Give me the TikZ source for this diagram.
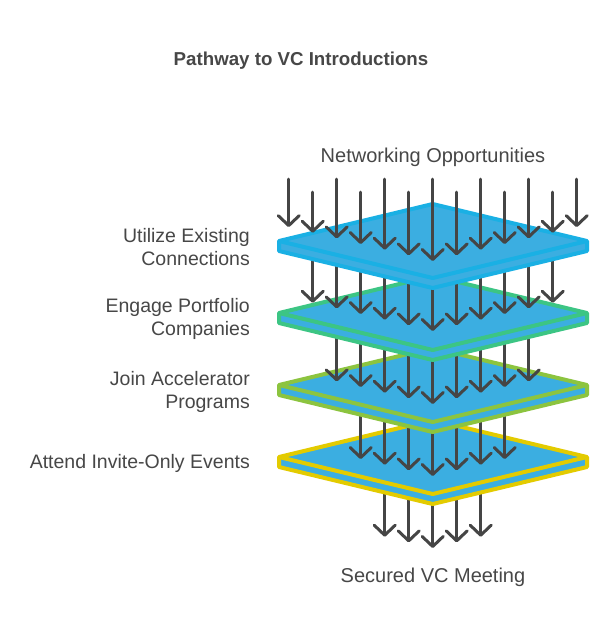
\documentclass[tikz,border=0pt]{standalone}
\usepackage{fontspec}
\setmainfont{Liberation Sans}
\usetikzlibrary{arrows.meta}
\definecolor{arrowgray}{HTML}{454545}
\definecolor{platefill}{HTML}{3BAEE1}
\definecolor{edgeA}{HTML}{1AB0E4}
\definecolor{edgeB}{HTML}{3CC584}
\definecolor{edgeC}{HTML}{8CC43F}
\definecolor{edgeD}{HTML}{E3CB00}
\definecolor{txt}{HTML}{474747}
\tikzset{
  arr/.style={draw=arrowgray, line width=3pt, line cap=round,
    -{Straight Barb[length=10pt, width=21pt, line join=round, line cap=round]}},
  platefillstyle/.style={fill=platefill},
  plateedge/.style={draw=#1, line width=4pt, line join=round},
  lbl/.style={text=txt, font=\fontsize{19.5}{23}\selectfont, inner sep=0pt, anchor=east, align=right},
  endlbl/.style={text=txt, font=\fontsize{20}{23}\selectfont, inner sep=0pt},
  ttl/.style={text=txt, font=\bfseries\fontsize{18.7}{22}\selectfont, inner sep=0pt},
}
\newcommand\drawplate[2]{%
  \pgfmathsetmacro\ptop{#1-37}%
  \pgfmathsetmacro\pfront{#1+37}%
  \pgfmathsetmacro\plow{#1+10}%
  \pgfmathsetmacro\pfrontlow{#1+47}%
  \fill[platefillstyle] (279,#1) -- (432.7,\ptop) -- (587,#1) -- (587,\plow) -- (432.7,\pfrontlow) -- (279,\plow) -- cycle;
  \draw[plateedge=#2] (279,#1) -- (432.7,\ptop) -- (587,#1) -- (587,\plow) -- (432.7,\pfrontlow) -- (279,\plow) -- cycle;
  \draw[plateedge=#2] (279,#1) -- (432.7,\pfront) -- (587,#1);
}
% #1 = max |j|, #2 = start y, #3 = tip y at centre
\newcommand\arrowrow[3]{%
  \foreach \j in {-#1,...,#1}{%
    \pgfmathsetmacro\xx{432.7+24*\j}%
    \pgfmathsetmacro\yt{#3-5.65*abs(\j)}%
    \draw[arr] (\xx,#2) -- (\xx,\yt);
  }%
}
\begin{document}
\begin{tikzpicture}[x=1pt,y=-1pt]
\fill[white] (0,0) rectangle (614,638);
\useasboundingbox (0,0) rectangle (614,638);

\node[ttl] (title) at (301,61) {Pathway to VC Introductions};
\node[endlbl] (source) at (433,157) {Networking Opportunities};
\node[endlbl] (sink) at (433,577) {Secured VC Meeting};

\node[lbl] (l1) at (250,247.5) {Utilize Existing\\Connections};
\node[lbl] (l2) at (250,318.5) {Engage Portfolio\\Companies};
\node[lbl] (l3) at (250,391.5) {Join Accelerator\\Programs};
\node[lbl] (l4) at (250,463) {Attend Invite-Only Events};

% bottom arrows (below plate 4)
\arrowrow{2}{465}{548}
\drawplate{457}{edgeD}
\arrowrow{3}{390}{476}
\drawplate{385}{edgeC}
\arrowrow{4}{318}{404}
\drawplate{313}{edgeB}
\arrowrow{5}{246}{331}
\drawplate{241}{edgeA}
% top arrows
\foreach \j in {-6,...,6}{%
  \pgfmathsetmacro\xx{432.7+24*\j}%
  \pgfmathsetmacro\ys{mod(abs(\j),2)==1 ? 192 : 179}%
  \pgfmathsetmacro\yt{261-5.65*abs(\j)}%
  \draw[arr] (\xx,\ys) -- (\xx,\yt);
}
\end{tikzpicture}
\end{document}
